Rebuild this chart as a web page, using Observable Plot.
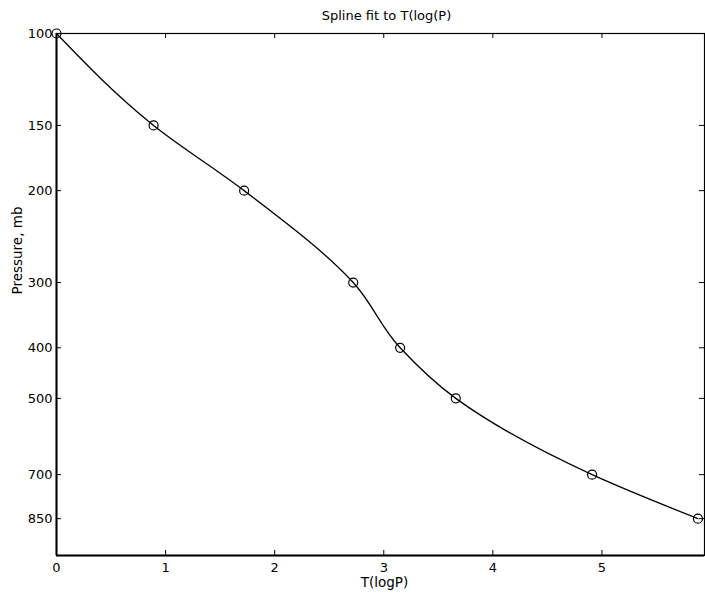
<!DOCTYPE html>
<html>
<head>
<meta charset="utf-8">
<script src="https://cdn.jsdelivr.net/npm/d3@7"></script>
<script src="https://cdn.jsdelivr.net/npm/@observablehq/plot@0.6"></script>
<style>
  html, body { margin: 0; padding: 0; background: #fff; }
</style>
</head>
<body>
<div id="chart"></div>
<script>
// Data
const temperature = [0, 0.89, 1.72, 2.72, 3.15, 3.66, 4.91, 5.88];
const pressure = [100, 150, 200, 300, 400, 500, 700, 850];
const xTicks = [0, 1, 2, 3, 4, 5];
const yTicks = [100, 150, 200, 300, 400, 500, 700, 850];
const titleText = "Spline fit to T(log(P)";
const xLabel = "T(logP)";
const yLabel = "Pressure, mb";

const data = temperature.map((t, i) => ({t, p: pressure[i]}));

const W = 705, H = 594;
const mL = 56, mR = 1, mT = 33, mB = 39;
const fw = W - mL - mR, fh = H - mT - mB;
const tick = 5;
const font = "DejaVu Sans";

const chart = Plot.plot({
  width: W,
  height: H,
  marginLeft: mL,
  marginRight: mR,
  marginTop: mT,
  marginBottom: mB,
  style: {fontFamily: font, fontSize: "13px", background: "#fff", color: "#000"},
  x: {domain: [0, 5.94]},
  y: {type: "log", domain: [100, 1000], reverse: true},
  marks: [
    Plot.frame({stroke: "#000", strokeWidth: 1.2}),
    Plot.ruleX([0], {stroke: "#000", strokeWidth: 2}),
    Plot.ruleY([1000], {stroke: "#000", strokeWidth: 2}),
    // inward ticks on four sides
    Plot.tickX(xTicks, {x: d => d, insetTop: fh - tick, stroke: "#000"}),
    Plot.tickX(xTicks, {x: d => d, insetBottom: fh - tick, stroke: "#000"}),
    Plot.tickY(yTicks, {y: d => d, insetRight: fw - tick, stroke: "#000"}),
    Plot.tickY(yTicks, {y: d => d, insetLeft: fw - tick, stroke: "#000"}),
    Plot.axisX({ticks: xTicks, tickSize: 0, tickPadding: 7, tickFormat: d => String(d), label: null, fontSize: 13}),
    Plot.axisY({ticks: yTicks, tickSize: 0, tickPadding: 4, tickFormat: d => String(d), label: null, fontSize: 13}),
    Plot.line(data, {x: "t", y: "p", curve: "monotone-y", stroke: "#000", strokeWidth: 1.3}),
    Plot.dot(data, {x: "t", y: "p", r: 4.5, stroke: "#000", fill: "none", strokeWidth: 1.2}),
    Plot.text([titleText], {text: d => d, frameAnchor: "top", lineAnchor: "middle", dy: -18, dx: 6, fontSize: 13, fill: "#000"}),
    Plot.text([xLabel], {text: d => d, frameAnchor: "bottom", lineAnchor: "middle", dy: 27, dx: 4, fontSize: 13.5, fill: "#000"}),
    Plot.text([yLabel], {text: d => d, frameAnchor: "left", lineAnchor: "middle", rotate: -90, dx: -39, fontSize: 13.5, fill: "#000"})
  ]
});
document.getElementById("chart").appendChild(chart);
</script>
</body>
</html>
